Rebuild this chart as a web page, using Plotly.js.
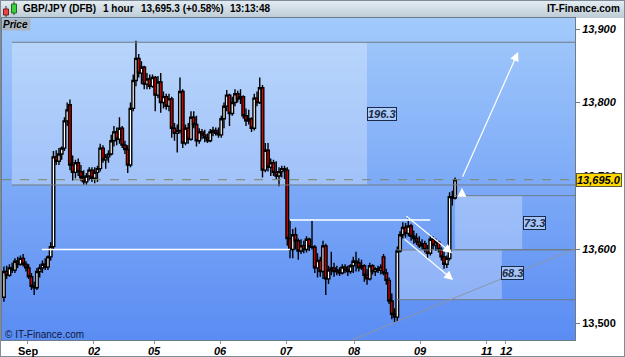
<!DOCTYPE html>
<html><head><meta charset="utf-8">
<script src="https://cdn.plot.ly/plotly-3.0.1.min.js"></script>
<style>
html,body{margin:0;padding:0;background:#fff;}
#chart{width:625px;height:357px;position:relative;
 background:
  linear-gradient(180deg,#e6eef3,#bccbd6) 0 0/625px 18px no-repeat,
  linear-gradient(180deg,#a2cafb,#5a8cf3) 2px 18px/573px 322px no-repeat,
  #fff;
 box-shadow: inset 0 0 0 1px #7d8c98;}
</style></head><body><div id="chart"></div>
<script>
// ---- data: GBP/JPY (DFB) 1-hour bars, Aug 31 – Sep 9 ----
const open = [13535,13570,13565,13575,13572,13584,13580,13588,13580,13575,13563,13550,13548,13570,13575,13580,13576,13590,13604,13726,
13720,13730,13738,13775,13797,13715,13705,13718,13706,13698,13692,13700,13708,13697,13705,13710,13738,13722,13726,13730,
13748,13760,13750,13765,13742,13736,13715,13792,13830,13860,13840,13848,13825,13832,13822,13834,13810,13828,13800,13808,
13795,13805,13765,13758,13762,13815,13745,13765,13750,13780,13770,13748,13760,13756,13752,13748,13760,13762,13758,13756,
13778,13795,13810,13785,13800,13812,13805,13808,13782,13775,13778,13765,13806,13800,13820,13708,13735,13712,13718,13705,
13700,13706,13710,13708,13615,13600,13620,13612,13598,13605,13600,13614,13604,13603,13575,13585,13570,13605,13560,13572,
13575,13570,13572,13568,13576,13572,13570,13578,13584,13582,13575,13578,13565,13560,13578,13570,13574,13572,13590,13568,
13558,13530,13512,13508,13598,13620,13630,13622,13632,13618,13615,13610,13605,13608,13600,13595,13614,13606,13610,13600,
13590,13580,13588,13672,13670];
const high = [13577,13578,13580,13582,13588,13590,13592,13594,13584,13580,13568,13556,13575,13580,13585,13588,13592,13610,13734,13735,
13738,13740,13780,13800,13804,13728,13722,13724,13715,13708,13704,13712,13712,13712,13714,13744,13742,13730,13735,13756,
13768,13766,13780,13768,13748,13742,13800,13838,13884,13866,13856,13850,13840,13838,13838,13836,13836,13840,13815,13812,
13812,13808,13772,13770,13834,13818,13770,13772,13788,13788,13782,13765,13764,13763,13758,13764,13767,13766,13766,13782,
13800,13817,13812,13808,13818,13816,13818,13810,13792,13790,13780,13812,13815,13834,13824,13745,13745,13724,13722,13720,
13712,13714,13714,13712,13640,13628,13630,13615,13614,13612,13618,13616,13640,13606,13595,13590,13612,13608,13578,13597,
13582,13578,13576,13580,13580,13578,13580,13590,13597,13588,13586,13580,13573,13582,13580,13576,13578,13580,13594,13574,
13562,13540,13520,13604,13625,13637,13636,13643,13635,13626,13622,13618,13614,13612,13606,13620,13618,13615,13612,13603,
13597,13592,13678,13680,13698];
const low = [13529,13560,13563,13568,13568,13575,13578,13577,13570,13560,13545,13538,13545,13562,13568,13572,13572,13585,13600,13715,
13715,13722,13734,13768,13708,13694,13697,13700,13693,13688,13688,13694,13692,13690,13692,13706,13718,13710,13718,13728,
13740,13742,13744,13738,13730,13704,13712,13788,13822,13834,13825,13818,13818,13818,13820,13788,13806,13786,13792,13790,
13788,13752,13748,13732,13758,13738,13742,13744,13748,13765,13740,13744,13750,13746,13745,13746,13754,13755,13752,13752,
13765,13788,13768,13782,13795,13800,13798,13778,13768,13770,13760,13762,13795,13798,13698,13705,13706,13700,13700,13696,
13686,13698,13696,13605,13588,13588,13600,13586,13594,13595,13596,13598,13600,13568,13562,13563,13560,13538,13553,13565,
13563,13565,13564,13566,13568,13564,13567,13568,13570,13570,13572,13556,13552,13558,13566,13564,13568,13566,13565,13552,
13526,13505,13500,13502,13596,13615,13616,13618,13612,13608,13606,13602,13600,13596,13588,13592,13600,13598,13596,13585,
13574,13575,13585,13660,13668];
const close = [13570,13565,13575,13572,13584,13580,13588,13580,13575,13563,13550,13548,13570,13575,13580,13576,13590,13604,13726,13720,
13730,13738,13775,13790,13715,13705,13718,13706,13698,13692,13700,13708,13697,13705,13710,13738,13722,13726,13730,13748,
13760,13750,13765,13742,13736,13715,13792,13830,13860,13840,13848,13825,13832,13822,13834,13810,13828,13800,13808,13795,
13805,13765,13758,13762,13815,13745,13765,13750,13780,13770,13748,13760,13756,13752,13748,13760,13762,13758,13756,13778,
13795,13810,13785,13800,13812,13805,13808,13782,13775,13778,13765,13806,13800,13820,13708,13735,13712,13718,13705,13700,
13706,13710,13708,13615,13600,13620,13612,13598,13605,13600,13614,13604,13603,13575,13585,13570,13605,13560,13572,13575,
13570,13572,13568,13576,13572,13570,13578,13584,13582,13575,13578,13565,13560,13578,13570,13574,13572,13576,13568,13558,
13530,13512,13508,13598,13620,13630,13622,13632,13618,13615,13610,13605,13608,13600,13595,13614,13606,13610,13600,13590,
13580,13588,13672,13670,13695];

// x-axis day labels (positions in bar units)
const dayLabels = ['Sep','02','05','06','07','08','09','11','12'];
const dayTickPos = [8.7,32.7,54.9,78.9,102.9,127.3,151.3,175.3,182.5];
const priceTicks = [13500,13600,13700,13800,13900];
const priceTickText = ['13,500','13,600','13,700','13,800','13,900'];

// drawing-tool levels
const lastPrice = 13695.0;
const rangeBox = {x0:2.9, x1:132, lo:13687.8, hi:13882, label:'196.3', lx:137.3, ly:13784};
const projUp = {x0:164, x1:188.4, lo:13600, hi:13673.3, label:'73.3', lx:192.8, ly:13636.7};
const projDown = {x0:142.9, x1:181, lo:13531.7, hi:13600, label:'68.3', lx:184.9, ly:13568};
const supportLine = {x0:13.8, x1:104, y:13600};
const resistLine = {x0:104, x1:155, y:13640};
const trendLine = {x0:126.5, y0:13477, x1:207.6, y1:13601};
const arrows = [
  {ax:166.5, ay:13697, x:186.9, y:13868.7},
  {ax:145.8, ay:13647, x:162.9, y:13595},
  {ax:145.1, ay:13615.6, x:163.3, y:13558.5},
  {ax:166.5, ay:13674, x:166.5, y:13684}
];

const XMAX = 207.6;
const xIdx = close.map((_, i) => i);
const PX = p => (p - 2) / 573;
const PY = p => (340 - p) / 322;
const FONT = 'Liberation Sans, Arial, sans-serif';
const gray = '#6f7c86';

const trace = {
  type:'candlestick', x:xIdx, open:open, high:high, low:low, close:close,
  increasing:{line:{color:'#000', width:1.4}, fillcolor:'#ffffff'},
  decreasing:{line:{color:'#000', width:1.4}, fillcolor:'#e00000'},
  whiskerwidth:0, hoverinfo:'skip'
};

const hline = (x0, x1, y, color, width, dash) => ({type:'line', xref:'x', yref:'y', x0:x0, x1:x1, y0:y, y1:y,
  line:{color:color, width:width, dash:dash || 'solid'}});
const box = b => ({type:'rect', xref:'x', yref:'y', x0:b.x0, x1:b.x1, y0:b.lo, y1:b.hi,
  fillcolor:'rgba(255,255,255,0.28)', line:{width:0}, layer:'below'});

const shapes = [
  box(rangeBox), box(projUp), box(projDown),
  hline(rangeBox.x0, XMAX, rangeBox.hi, gray, 1),
  hline(rangeBox.x0, XMAX, rangeBox.lo, gray, 1),
  {type:'line', xref:'paper', yref:'y', x0:0, x1:1, y0:lastPrice, y1:lastPrice, line:{color:'#7c8560', width:1, dash:'dash'}},
  hline(supportLine.x0, supportLine.x1, supportLine.y, '#ffffff', 1.5),
  hline(resistLine.x0, resistLine.x1, resistLine.y, 'rgba(225,238,255,0.95)', 2),
  hline(projUp.x0, XMAX, projUp.hi, gray, 1),
  hline(projUp.x0, XMAX, projUp.lo, gray, 1),
  hline(projDown.x0, XMAX, projDown.lo, gray, 1),
  hline(projDown.x0, XMAX, projDown.hi - 0.6, gray, 1),
  {type:'line', xref:'x', yref:'y', x0:trendLine.x0, y0:trendLine.y0, x1:trendLine.x1, y1:trendLine.y1, line:{color:'#8b96a3', width:1}},
  // header icon
  {type:'line', xref:'paper', yref:'paper', x0:PX(6), x1:PX(6), y0:PY(6), y1:PY(17), line:{color:'#333', width:1}},
  {type:'rect', xref:'paper', yref:'paper', x0:PX(3.5), x1:PX(8.5), y0:PY(9), y1:PY(15), fillcolor:'#f04040', line:{color:'#702020', width:1}},
  {type:'line', xref:'paper', yref:'paper', x0:PX(14), x1:PX(14), y0:PY(1.5), y1:PY(15), line:{color:'#333', width:1}},
  {type:'rect', xref:'paper', yref:'paper', x0:PX(11.5), x1:PX(16.5), y0:PY(4), y1:PY(13), fillcolor:'#3ad040', line:{color:'#1d6a20', width:1}}
];

const lbl = b => ({xref:'x', yref:'y', x:b.lx, y:b.ly, text:b.label, showarrow:false,
  font:{family:FONT, size:11, weight:'bold', style:'italic', color:'#1a2a48'},
  bgcolor:'rgba(175,205,248,0.85)', bordercolor:'#1a2a48', borderwidth:1, borderpad:0});

const hdr = (px, text, anchor) => ({xref:'paper', yref:'paper', x:PX(px), xanchor:anchor || 'left', y:PY(8.5), yanchor:'middle',
  text:text, showarrow:false, font:{family:FONT, size:10, weight:'bold', color:'#000'}});

const annotations = [
  lbl(rangeBox), lbl(projUp), lbl(projDown),
  ...arrows.map(a => ({xref:'x', yref:'y', axref:'x', ayref:'y', x:a.x, y:a.y, ax:a.ax, ay:a.ay, text:'',
    showarrow:true, arrowhead:2, arrowsize:1.5, arrowwidth:1.2, arrowcolor:'#ffffff'})),
  // x-axis day labels
  ...dayLabels.map((t, i) => ({xref:'x', yref:'paper', x:dayTickPos[i], y:PY(350.5), yanchor:'middle', text:t, showarrow:false,
    font:{family:FONT, size:11, weight:'bold', style: i === 0 ? 'normal' : 'italic', color:'#000'}})),
  {xref:'paper', yref:'y', x:1, xanchor:'left', xshift:1, y:lastPrice, yanchor:'middle',
   text:'13,695.0', showarrow:false, font:{family:FONT, size:11, weight:'bold', style:'italic', color:'#000'},
   bgcolor:'#ffd800', bordercolor:'#5a5a40', borderwidth:1, borderpad:0},
  hdr(21, 'GBP/JPY (DFB)'), hdr(101, '1 hour'), hdr(139, '13,695.3 (+0.58%)'), hdr(228, '13:13:48'),
  hdr(622, 'IT-Finance.com', 'right'),
  {xref:'paper', yref:'paper', x:PX(2), xanchor:'left', y:PY(18), yanchor:'top', text:'Price ', showarrow:false,
   font:{family:FONT, size:10, weight:'bold', style:'italic', color:'#000'}, bgcolor:'#aab6bf', borderpad:0},
  {xref:'paper', yref:'paper', x:PX(3), xanchor:'left', y:PY(334.5), yanchor:'middle', text:'© IT-Finance.com', showarrow:false,
   font:{family:FONT, size:10, color:'#0e1a3c'}}
];

const layout = {
  width:625, height:357,
  margin:{l:2, r:50, t:18, b:17, pad:0},
  paper_bgcolor:'rgba(0,0,0,0)', plot_bgcolor:'rgba(0,0,0,0)',
  showlegend:false, boxgap:0.05, boxgroupgap:0,
  font:{family:FONT, size:11, color:'#000'},
  xaxis:{range:[-0.7, XMAX], tickmode:'array', tickvals:dayTickPos, showticklabels:false,
    ticks:'outside', ticklen:3, tickcolor:'#8898a6', showgrid:false, zeroline:false,
    showline:true, linecolor:'#6d7c88', mirror:true, rangeslider:{visible:false}, fixedrange:true},
  yaxis:{side:'right', range:[13476.9, 13915], tickmode:'array', tickvals:priceTicks,
    ticktext:priceTickText.map((t, i) => i === 0 ? '<b>' + t + '</b>' : '<b><i>' + t + '</i></b>'),
    ticks:'outside', ticklen:4, tickcolor:'#6d7c88', showgrid:false, zeroline:false,
    showline:true, linecolor:'#6d7c88', mirror:true, fixedrange:true,
    tickfont:{family:FONT, size:11, color:'#000'}},
  shapes:shapes, annotations:annotations
};

Plotly.newPlot('chart', [trace], layout, {staticPlot:true, displayModeBar:false});
</script></body></html>
